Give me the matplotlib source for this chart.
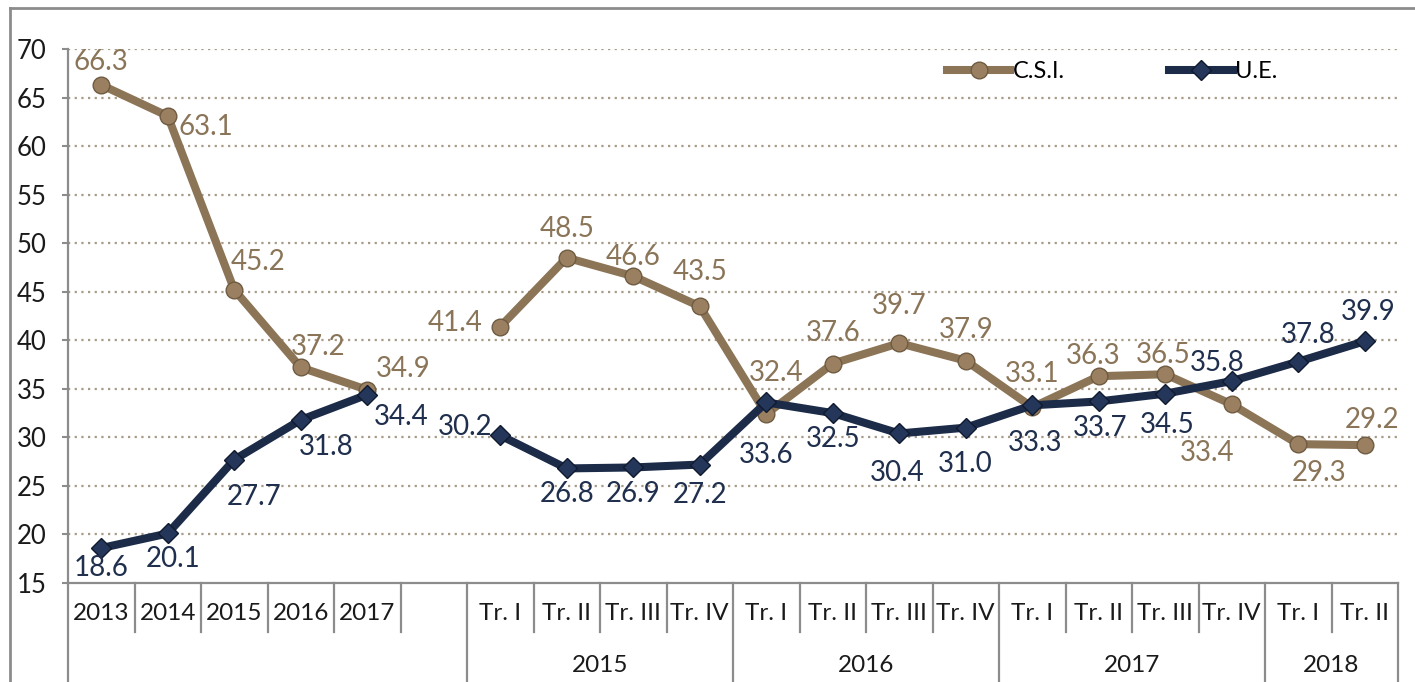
import numpy as np
import matplotlib
matplotlib.use('Agg')
import matplotlib.pyplot as plt
from matplotlib.lines import Line2D

plt.rcParams['font.family'] = ['Lato', 'DejaVu Sans']

# categories on the x axis (blank slot separates annual and quarterly data)
categories = ['2013', '2014', '2015', '2016', '2017', '',
              'Tr. I', 'Tr. II', 'Tr. III', 'Tr. IV',
              'Tr. I', 'Tr. II', 'Tr. III', 'Tr. IV',
              'Tr. I', 'Tr. II', 'Tr. III', 'Tr. IV',
              'Tr. I', 'Tr. II']
group_labels = ['', '2015', '2016', '2017', '2018']
group_sizes = [6, 4, 4, 4, 2]

nan = np.nan
csi = [66.3, 63.1, 45.2, 37.2, 34.9, nan, 41.4, 48.5, 46.6, 43.5,
       32.4, 37.6, 39.7, 37.9, 33.1, 36.3, 36.5, 33.4, 29.3, 29.2]
ue = [18.6, 20.1, 27.7, 31.8, 34.4, nan, 30.2, 26.8, 26.9, 27.2,
      33.6, 32.5, 30.4, 31.0, 33.3, 33.7, 34.5, 35.8, 37.8, 39.9]

# label offsets in pixels (dx, dy), hand placed like the original
csi_off = [(0, 23), (38, -11), (24, 28), (17, 20), (36, 21), None, (-45, 4), (0, 29),
           (0, 19), (0, 34), (10, 41), (0, 31), (0, 37), (0, 31), (0, 33), (-6, 20),
           (-2, 19), (-25, -49), (21, -29), (7, 25)]
ue_off = [(0, -20), (5, -26), (20, -37), (25, -27), (34, -22), None, (-35, 8), (0, -26),
          (0, -27), (0, -30), (0, -53), (0, -26), (-2, -40), (-1, -36), (3, -38), (1, -27),
          (2, -31), (-15, 18), (10, 27), (3, 29)]

brown = '#8c7456'
brown_txt = '#8a7559'
navy = '#1c2b48'
navy_txt = '#1f2f4d'
gray = '#8c8c8c'

fig = plt.figure(figsize=(14.15, 6.82), dpi=100)
ax = fig.add_axes([68/1415, 99/682, 1330/1415, 534/682])

x = np.arange(len(categories))
ax.plot(x, csi, color=brown, lw=5.8, marker='o', ms=12, mfc='#9a8060', mec='#6f5b42', mew=1,
        solid_joinstyle='round', label='C.S.I.', zorder=3)
ax.plot(x, ue, color=navy, lw=5.8, marker='D', ms=10, mfc='#24365a', mec='#101a2e', mew=1,
        solid_joinstyle='round', label='U.E.', zorder=4)

for xi, v, off in zip(x, csi, csi_off):
    if off is None:
        continue
    ax.annotate(f'{v:.1f}', (xi, v), xytext=off, textcoords='offset pixels',
                ha='center', va='center', fontsize=20, color=brown_txt, zorder=5)
for xi, v, off in zip(x, ue, ue_off):
    if off is None:
        continue
    ax.annotate(f'{v:.1f}', (xi, v), xytext=off, textcoords='offset pixels',
                ha='center', va='center', fontsize=20, color=navy_txt, zorder=5)

ax.set_xlim(-0.5, len(categories) - 0.5)
ax.set_ylim(15, 70)
ax.set_yticks(range(15, 71, 5))
ax.tick_params(axis='y', direction='out', length=4.5, width=1.5, color=gray,
               labelsize=18.5, pad=11, labelcolor='#1a1a1a')
ax.set_xticks([])
for y in range(20, 71, 5):
    ax.axhline(y, color='#a89a88', lw=1.6, ls=(0, (1, 2)), zorder=1)

for s in ['top', 'right']:
    ax.spines[s].set_visible(False)
for s in ['left', 'bottom']:
    ax.spines[s].set_color(gray)
    ax.spines[s].set_linewidth(1.6)

# multi-level category axis
trans = ax.get_xaxis_transform()
for xi, lab in zip(x, categories):
    ax.text(xi, -0.058, lab, transform=trans, ha='center', va='center',
            fontsize=17.5, color='#1a1a1a')
# short separators between categories, long ones between groups
bounds = np.cumsum([0] + group_sizes) - 0.5
for xi in np.arange(-0.5, len(categories)):
    full = np.isclose(bounds, xi).any()
    ax.plot([xi, xi], [0, -0.186 if full else -0.092], transform=trans,
            color=gray, lw=1.6, clip_on=False)
for lab, lo, hi in zip(group_labels, bounds[:-1], bounds[1:]):
    ax.text((lo + hi) / 2, -0.154, lab, transform=trans, ha='center', va='center',
            fontsize=17.5, color='#1a1a1a')

handles = [Line2D([], [], color=brown, lw=5.8, marker='o', ms=12, mfc='#9a8060', mec='#6f5b42'),
           Line2D([], [], color=navy, lw=5.8, marker='D', ms=10, mfc='#24365a', mec='#101a2e')]
ax.legend(handles, ['C.S.I.', 'U.E.'], ncol=2, loc='center', bbox_to_anchor=(0.785, 0.957),
          frameon=False, fontsize=17, handlelength=2.7, handletextpad=0.1, columnspacing=4.4)

# outer border of the picture
fig.add_artist(Line2D([10/1415, 1], [1 - 8/682, 1 - 8/682], color=gray, lw=2))
fig.add_artist(Line2D([10/1415, 10/1415], [0, 1 - 8/682], color=gray, lw=2))

fig.savefig('out.png', dpi=100)
